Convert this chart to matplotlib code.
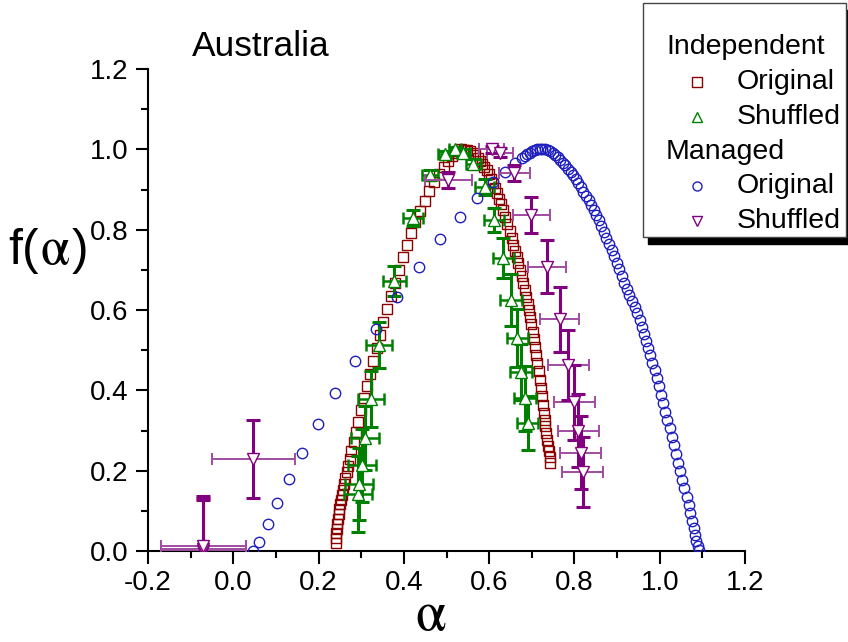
import matplotlib
matplotlib.use('Agg')
import matplotlib.pyplot as plt
from matplotlib.patches import Rectangle
from matplotlib.lines import Line2D
from matplotlib.ticker import MultipleLocator
from matplotlib.offsetbox import TextArea, HPacker, AnchoredOffsetbox

plt.rcParams['font.family'] = ['Liberation Sans', 'DejaVu Sans']
plt.rcParams['mathtext.fontset'] = 'stix'

# ---------------- data ----------------
title = "Australia"
x_ticks = [-0.2, 0.0, 0.2, 0.4, 0.6, 0.8, 1.0, 1.2]
x_tick_labels = ["-0.2", "0.0", "0.2", "0.4", "0.6", "0.8", "1.0", "1.2"]
y_ticks = [0.0, 0.2, 0.4, 0.6, 0.8, 1.0, 1.2]
y_tick_labels = ["0.0", "0.2", "0.4", "0.6", "0.8", "1.0", "1.2"]

# Independent - Original (red squares)
ind_orig_x = [0.240, 0.241, 0.242, 0.243, 0.244, 0.246, 0.247, 0.249, 0.251, 0.253,
              0.255, 0.257, 0.260, 0.263, 0.266, 0.269, 0.273, 0.277, 0.282, 0.287,
              0.293, 0.299, 0.306, 0.313, 0.320, 0.328, 0.336, 0.344, 0.352, 0.361,
              0.370, 0.379, 0.388, 0.397, 0.407, 0.417, 0.427, 0.438, 0.449, 0.460,
              0.471, 0.482, 0.493, 0.503, 0.512, 0.520, 0.527, 0.534,
              0.541, 0.548, 0.555, 0.561, 0.568, 0.574, 0.579, 0.584, 0.589, 0.594,
              0.599, 0.604, 0.609, 0.614, 0.618, 0.623, 0.628, 0.632, 0.637, 0.642,
              0.648, 0.653, 0.657, 0.661, 0.665, 0.668, 0.672, 0.676, 0.680, 0.684,
              0.687, 0.690, 0.693, 0.696, 0.699, 0.702, 0.705, 0.707, 0.710, 0.713,
              0.716, 0.719, 0.721, 0.724, 0.726, 0.728, 0.730, 0.732, 0.734, 0.736,
              0.738, 0.740, 0.742, 0.743]
ind_orig_y = [0.020, 0.032, 0.044, 0.056, 0.068, 0.080, 0.092, 0.104, 0.116, 0.128,
              0.140, 0.153, 0.167, 0.181, 0.196, 0.212, 0.230, 0.250, 0.272, 0.296,
              0.322, 0.350, 0.380, 0.410, 0.440, 0.472, 0.505, 0.538, 0.570, 0.603,
              0.636, 0.668, 0.700, 0.731, 0.762, 0.792, 0.820, 0.847, 0.872, 0.896,
              0.918, 0.938, 0.956, 0.971, 0.983, 0.992, 0.997, 1.000,
              0.999, 0.998, 0.996, 0.992, 0.986, 0.978, 0.971, 0.963, 0.956, 0.948,
              0.938, 0.927, 0.916, 0.904, 0.891, 0.877, 0.863, 0.850, 0.832, 0.815,
              0.797, 0.779, 0.763, 0.748, 0.732, 0.717, 0.700, 0.684, 0.667, 0.650,
              0.633, 0.616, 0.600, 0.583, 0.564, 0.546, 0.527, 0.509, 0.488, 0.467,
              0.447, 0.426, 0.405, 0.385, 0.364, 0.343, 0.326, 0.310, 0.293, 0.276,
              0.262, 0.248, 0.233, 0.219]

# Independent - Shuffled (green up-triangles, with error bars)
ind_shuf_x = [0.292, 0.294, 0.301, 0.309, 0.323, 0.342, 0.377, 0.421, 0.461, 0.496,
              0.520, 0.539, 0.563, 0.590, 0.611, 0.633, 0.651, 0.666, 0.675, 0.684, 0.690]
ind_shuf_y = [0.142, 0.167, 0.213, 0.281, 0.379, 0.513, 0.673, 0.830, 0.936, 0.988,
              1.000, 0.992, 0.963, 0.907, 0.824, 0.729, 0.625, 0.530, 0.446, 0.380, 0.318]
ind_shuf_xerr = [0.033, 0.033, 0.033, 0.032, 0.031, 0.030, 0.027, 0.023, 0.019, 0.015,
                 0.015, 0.015, 0.018, 0.022, 0.024, 0.025, 0.025, 0.025, 0.025, 0.025, 0.025]
ind_shuf_yerr = [0.095, 0.090, 0.090, 0.080, 0.070, 0.058, 0.037, 0.020, 0.012, 0.008,
                 0.005, 0.008, 0.012, 0.020, 0.030, 0.050, 0.064, 0.072, 0.070, 0.080, 0.067]

# Managed - Original (blue circles)
man_orig_x = [0.046, 0.060, 0.081, 0.102, 0.131, 0.161, 0.199, 0.238, 0.285, 0.335,
              0.385, 0.436, 0.485, 0.532, 0.572, 0.608, 0.637, 0.661, 0.676,
              0.683, 0.689, 0.695, 0.701, 0.707, 0.713, 0.719, 0.725, 0.731, 0.737,
              0.743, 0.749, 0.755, 0.761, 0.767, 0.773, 0.779, 0.785, 0.791, 0.797,
              0.803, 0.809, 0.815, 0.821, 0.827, 0.833, 0.839, 0.845, 0.851, 0.857,
              0.863, 0.869, 0.875, 0.881, 0.887, 0.893, 0.899, 0.905, 0.911, 0.917,
              0.923, 0.929, 0.935, 0.941, 0.947, 0.953, 0.958, 0.963, 0.968, 0.973,
              0.978, 0.983, 0.988, 0.993, 0.998, 1.003, 1.008, 1.013, 1.018, 1.023,
              1.028, 1.033, 1.038, 1.043, 1.048, 1.053, 1.058, 1.063, 1.068, 1.072,
              1.076, 1.080, 1.083, 1.086, 1.089, 1.091]
man_orig_y = [0.000, 0.022, 0.067, 0.119, 0.179, 0.244, 0.316, 0.393, 0.473, 0.553,
              0.633, 0.708, 0.777, 0.832, 0.880, 0.918, 0.944, 0.967, 0.978,
              0.983, 0.988, 0.992, 0.995, 0.998, 1.000, 1.001, 1.001, 1.000, 0.998,
              0.995, 0.991, 0.986, 0.980, 0.974, 0.967, 0.960, 0.952, 0.944, 0.935,
              0.926, 0.916, 0.906, 0.895, 0.884, 0.873, 0.861, 0.849, 0.836, 0.823,
              0.809, 0.795, 0.780, 0.765, 0.750, 0.734, 0.718, 0.702, 0.685, 0.668,
              0.652, 0.637, 0.623, 0.608, 0.593, 0.575, 0.558, 0.541, 0.524, 0.506,
              0.488, 0.469, 0.450, 0.430, 0.410, 0.389, 0.368, 0.347, 0.326, 0.305,
              0.284, 0.263, 0.242, 0.220, 0.198, 0.177, 0.156, 0.135, 0.114, 0.094,
              0.075, 0.057, 0.041, 0.026, 0.013, 0.002]

# Managed - Shuffled (purple down-triangles, with error bars)
man_shuf_x = [-0.070, -0.070, -0.070, 0.047, 0.504, 0.606, 0.625, 0.659, 0.699, 0.736,
              0.765, 0.786, 0.800, 0.809, 0.815, 0.819]
man_shuf_y = [0.001, 0.006, 0.012, 0.229, 0.924, 1.000, 0.992, 0.942, 0.836, 0.708,
              0.577, 0.463, 0.370, 0.300, 0.245, 0.197]
man_shuf_xerr = [0.099, 0.099, 0.099, 0.097, 0.055, 0.030, 0.030, 0.037, 0.043, 0.045,
                 0.046, 0.048, 0.048, 0.048, 0.048, 0.047]
man_shuf_yerr = [0.125, 0.125, 0.125, 0.098, 0.020, 0.008, 0.012, 0.020, 0.045, 0.066,
                 0.081, 0.088, 0.093, 0.090, 0.090, 0.088]

c_red = '#8b0000'
c_green = '#008000'
c_blue = '#1f1fc0'
c_purple = '#800080'
c_purple_light = '#a04ca0'

W, H = 848, 642
fig = plt.figure(figsize=(W / 100, H / 100), dpi=100)
ax = fig.add_axes([148 / W, 1 - 551 / H, (745 - 148) / W, (551 - 69) / H])
ax.set_xlim(-0.2, 1.2)
ax.set_ylim(0.0, 1.2)

# red squares
ax.plot(ind_orig_x, ind_orig_y, linestyle='none', marker='s', markersize=7.5,
        markerfacecolor='none', markeredgecolor=c_red, markeredgewidth=1.0, zorder=2)

# green error bars
ax.errorbar(ind_shuf_x, ind_shuf_y, xerr=ind_shuf_xerr, fmt='none', ecolor=c_green,
            elinewidth=1.8, capsize=4.5, capthick=1.8, zorder=3)
ax.errorbar(ind_shuf_x, ind_shuf_y, yerr=ind_shuf_yerr, fmt='none', ecolor=c_green,
            elinewidth=2.2, capsize=5, capthick=2.2, zorder=3)
ax.plot(ind_shuf_x, ind_shuf_y, linestyle='none', marker='^', markersize=9,
        markerfacecolor='white', markeredgecolor=c_green, markeredgewidth=1.0, zorder=4)

# blue circles
ax.plot(man_orig_x, man_orig_y, linestyle='none', marker='o', markersize=7.5,
        markerfacecolor='none', markeredgecolor=c_blue, markeredgewidth=1.0, zorder=5)

# purple error bars
ax.errorbar(man_shuf_x, man_shuf_y, xerr=man_shuf_xerr, fmt='none', ecolor=c_purple_light,
            elinewidth=1.4, capsize=4.5, capthick=1.4, zorder=6)
ax.errorbar(man_shuf_x, man_shuf_y, yerr=man_shuf_yerr, fmt='none', ecolor=c_purple,
            elinewidth=2.2, capsize=5, capthick=2.2, zorder=6)
ax.plot(man_shuf_x, man_shuf_y, linestyle='none', marker='v', markersize=9,
        markerfacecolor='white', markeredgecolor=c_purple, markeredgewidth=1.0, zorder=7)

# axes styling
for s in ['top', 'right']:
    ax.spines[s].set_visible(False)
for s in ['left', 'bottom']:
    ax.spines[s].set_linewidth(1.5)
ax.set_xticks(x_ticks)
ax.set_xticklabels(x_tick_labels)
ax.set_yticks(y_ticks)
ax.set_yticklabels(y_tick_labels)
ax.xaxis.set_minor_locator(MultipleLocator(0.1))
ax.yaxis.set_minor_locator(MultipleLocator(0.1))
ax.tick_params(which='major', direction='out', length=9, width=1.5, labelsize=20, pad=5)
ax.tick_params(which='minor', direction='out', length=5, width=1.5)

# labels
fig.text(192 / W, 1 - 46 / H, title, fontsize=25.5, ha='left', va='center')

sans = dict(fontsize=36, family='Liberation Sans')
greek = dict(fontsize=38)
ylab = HPacker(children=[TextArea('f(', textprops=sans),
                         TextArea(r'$\mathrm{\alpha}$', textprops=greek),
                         TextArea(')', textprops=sans)], align='baseline', pad=0, sep=1)
fig.add_artist(AnchoredOffsetbox(loc='center', child=ylab, pad=0, borderpad=0, frameon=False,
                                 bbox_to_anchor=(48 / W, 1 - 250 / H),
                                 bbox_transform=fig.transFigure))
fig.text(431 / W, 1 - 630 / H, r'$\mathrm{\alpha}$', fontsize=40, ha='center', va='baseline')

# legend (manual)
x0, y0, x1, y1 = 643, 3, 846, 237
fig.patches.append(Rectangle(((x0 + 5) / W, 1 - (y1 + 7) / H), (x1 - x0) / W, (y1 - y0) / H,
                             transform=fig.transFigure, facecolor='black',
                             edgecolor='black', zorder=10))
fig.patches.append(Rectangle((x0 / W, 1 - y1 / H), (x1 - x0) / W, (y1 - y0) / H,
                             transform=fig.transFigure, facecolor='white',
                             edgecolor='#444444', linewidth=1.0, zorder=11))
rows = [47, 82, 117, 152, 186, 221]
fig.text(666 / W, 1 - rows[0] / H, 'Independent', fontsize=20.5, ha='left', va='center', zorder=12)
fig.text(666 / W, 1 - rows[3] / H, 'Managed', fontsize=20.5, ha='left', va='center', zorder=12)
entries = [(rows[1], 's', c_red, 'Original'), (rows[2], '^', c_green, 'Shuffled'),
           (rows[4], 'o', c_blue, 'Original'), (rows[5], 'v', c_purple, 'Shuffled')]
for yy, mk, col, lab in entries:
    fig.lines.append(Line2D([697 / W], [1 - yy / H], transform=fig.transFigure, marker=mk,
                            markersize=6.5, markerfacecolor='white', markeredgecolor=col,
                            markeredgewidth=1.0, linestyle='none', zorder=12))
    fig.text(737 / W, 1 - yy / H, lab, fontsize=20.5, ha='left', va='center', zorder=12)

fig.savefig('out.png', dpi=100)
